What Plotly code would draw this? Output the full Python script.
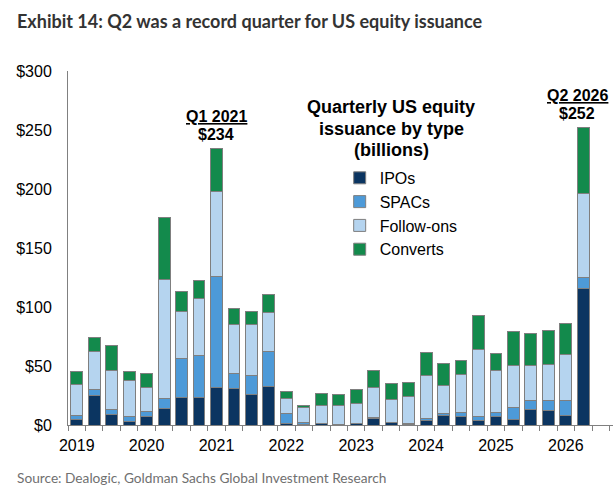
import plotly.graph_objects as go

# Quarters 2019Q1 .. 2026Q2
quarters = [f"{y}Q{q}" for y in range(2019, 2027) for q in range(1, 5)][:30]
year_labels = ["2019", "2020", "2021", "2022", "2023", "2024", "2025", "2026"]

ipos = [4.6, 25, 8.8, 2.8, 7.1, 14, 23.4, 23.4, 31.5, 31, 26, 32.8,
        1.1, 0.8, 1.3, 0.3, 0.9, 5.8, 1.8, 0.5, 3.9, 8, 7.1, 3.7,
        7.1, 4.6, 13.1, 12.3, 8, 116]
spacs = [3.7, 5, 4, 4.6, 4.6, 8.2, 32.6, 35.3, 94, 12.6, 15.9, 29.6,
         8.9, 1.4, 0.3, 0.1, 0.7, 0.7, 0.5, 0.5, 1.5, 2, 3.7, 3.7,
         3.7, 9.9, 8, 8.8, 13.1, 9.4]
follow_ons = [26.2, 32, 33.1, 29.9, 20.5, 101.4, 40, 48.7, 72, 41.6, 43.3, 33,
              12.8, 12.3, 15.1, 16.3, 16.8, 25.4, 19, 23.4, 36.9, 23.8, 32.2, 57,
              35.6, 35.6, 29, 29.9, 39, 70.6]
converts = [10.5, 12, 21.1, 7.7, 11.8, 52.2, 17.4, 15.4, 36.5, 13.7, 11.1, 15.4,
            5.7, 2.1, 10.3, 9.5, 11.9, 14.1, 13.5, 11.2, 19.1, 18.1, 11.4, 28.5,
            14, 29.1, 27.4, 29.1, 25.9, 56]

series_names = ["IPOs", "SPACs", "Follow-ons", "Converts"]
series_values = [ipos, spacs, follow_ons, converts]
series_colors = ["#0b3561", "#4d9ad8", "#b5d4ef", "#138a4c"]

highlights = [("Q1 2021", "$234", 8, 234, 0), ("Q2 2026", "$252", 29, 252, -6)]
legend_title_lines = ["Quarterly US equity", "issuance by type", "(billions)"]

x = list(range(len(quarters)))
fig = go.Figure()
for name, vals, col in zip(series_names, series_values, series_colors):
    fig.add_trace(go.Bar(
        x=x, y=vals, name=name, width=0.68,
        marker=dict(color=col, line=dict(color="#7f7f7f", width=1)),
        hovertext=quarters,
    ))

GRAY = "#808080"
fig.update_layout(
    barmode="stack",
    width=613, height=501,
    margin=dict(l=68, r=0, t=71, b=76),
    paper_bgcolor="white", plot_bgcolor="white",
    font=dict(family="Arial, Liberation Sans, sans-serif", size=16, color="#000"),
    showlegend=True,
    legend=dict(
        x=0.4985, y=0.746, xanchor="left", yanchor="top",
        traceorder="normal", bgcolor="rgba(0,0,0,0)",
        font=dict(size=16, family="Arial, Liberation Sans, sans-serif"),
        itemwidth=30,
    ),
    xaxis=dict(
        range=[-0.5, 30.7],
        tickmode="array",
        tickvals=[i * 4 for i in range(len(year_labels))],
        ticktext=year_labels,
        ticks="",
        showline=True, linecolor=GRAY, linewidth=1,
        showgrid=False, zeroline=False,
        ticklabelstandoff=6,
        minor=dict(
            tickmode="array",
            tickvals=[i - 0.5 for i in range(32)],
            ticks="outside", ticklen=5, tickcolor=GRAY, tickwidth=1,
            showgrid=False,
        ),
    ),
    yaxis=dict(
        range=[0, 300],
        tickmode="array",
        tickvals=[0, 50, 100, 150, 200, 250, 300],
        ticktext=["$0", "$50", "$100", "$150", "$200", "$250", "$300"],
        ticks="",
        showline=True, linecolor=GRAY, linewidth=1,
        showgrid=False, zeroline=False,
        ticklabelstandoff=12,
    ),
)

annotations = []
for lab, val, xi, tot, xs in highlights:
    annotations.append(dict(
        x=xi, y=tot, xref="x", yref="y", text=f"<b>{val}</b>",
        showarrow=False, yanchor="bottom", yshift=4, xshift=xs,
        font=dict(size=16, family="Arial, Liberation Sans, sans-serif"),
    ))
    annotations.append(dict(
        x=xi, y=tot, xref="x", yref="y", text=f"<b><u>{lab}</u></b>",
        showarrow=False, yanchor="bottom", yshift=22, xshift=xs,
        font=dict(size=16, family="Arial, Liberation Sans, sans-serif"),
    ))

for i, line in enumerate(legend_title_lines):
    annotations.append(dict(
        x=391, y=107 + i * 21.5, xref="paper", yref="paper",
        text=f"<b>{line}</b>",
        showarrow=False, xanchor="center", yanchor="middle", align="center",
        font=dict(size=18, family="Arial, Liberation Sans, sans-serif"),
    ))
annotations.append(dict(
    x=15, y=21, xref="paper", yref="paper",
    text="<b>Exhibit 14: Q2 was a record quarter for US equity issuance</b>",
    showarrow=False, xanchor="left", yanchor="middle",
    font=dict(size=18, family="Lato, sans-serif", color="#333333"),
))
annotations.append(dict(
    x=15, y=477, xref="paper", yref="paper",
    text="Source: Dealogic, Goldman Sachs Global Investment Research",
    showarrow=False, xanchor="left", yanchor="middle",
    font=dict(size=13.7, family="Lato, sans-serif", color="#707070"),
))

# convert pixel positions for paper-referenced annotations
W, H = 613, 501
l, r, t, b = 68, 0, 71, 76
pw, ph = W - l - r, H - t - b
for a in annotations:
    if a.get("xref") == "paper":
        a["x"] = (a["x"] - l) / pw
        a["y"] = (H - b - a["y"]) / ph
fig.update_layout(annotations=annotations)

fig.write_html("out.html")
